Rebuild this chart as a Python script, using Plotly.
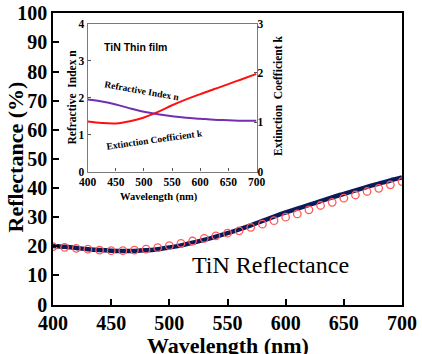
import plotly.graph_objects as go

W, H = 422, 354

# Reflectance spectrum: measured points and fitted curve
wl_meas = list(range(400, 701, 10))
refl_meas = [19.9, 19.65, 19.3, 19.0, 18.7, 18.5, 18.5, 18.7, 19.0, 19.5, 20.2,
             21.0, 21.8, 22.7, 23.6, 24.5, 25.3, 26.5, 27.6, 28.8, 30.0,
             31.1, 32.5, 34.0, 35.1, 36.5, 37.6, 38.8, 39.9, 41.1, 42.2]
wl_fit = list(range(400, 701, 10))
refl_fit = [20.1, 19.8, 19.4, 19.0, 18.7, 18.5, 18.4, 18.4, 18.6, 19.0, 19.6,
            20.3, 21.2, 22.2, 23.3, 24.5, 25.8, 27.2, 28.7, 30.2, 31.6,
            32.9, 34.2, 35.5, 36.8, 38.0, 39.2, 40.4, 41.5, 42.6, 43.6]

# Optical constants of the TiN thin film
wl_nk = [400, 425, 450, 475, 500, 525, 550, 575, 600, 625, 650, 675, 700]
n_vals = [1.35, 1.31, 1.30, 1.36, 1.46, 1.61, 1.79, 1.95, 2.09, 2.23, 2.36, 2.50, 2.64]
k_vals = [1.46, 1.42, 1.36, 1.28, 1.21, 1.16, 1.12, 1.09, 1.07, 1.05, 1.04, 1.03, 1.03]

main_xticks = [400, 450, 500, 550, 600, 650, 700]
main_yticks = list(range(0, 101, 10))
inset_xticks = [400, 450, 500, 550, 600, 650, 700]
n_ticks = [0, 1, 2, 3, 4]
k_ticks = [0, 1, 2, 3]


def px(x):
    return x / W


def py(y):
    return 1 - y / H


SERIF = "Times New Roman, Liberation Serif, serif"
SANS = "Arial, Liberation Sans, sans-serif"

fig = go.Figure()

fig.add_trace(go.Scatter(
    x=wl_fit, y=refl_fit, mode="lines", line=dict(color="#0b1a5a", width=4.5, shape="spline"),
    xaxis="x", yaxis="y", showlegend=False))
fig.add_trace(go.Scatter(
    x=wl_meas, y=refl_meas, mode="markers",
    marker=dict(symbol="circle-open", size=7.5, color="#ff5a5a", line=dict(width=1.3, color="#ff5a5a")),
    xaxis="x", yaxis="y", showlegend=False))

fig.add_trace(go.Scatter(
    x=wl_nk, y=n_vals, mode="lines", line=dict(color="#ff1010", width=2, shape="spline"),
    xaxis="x2", yaxis="y2", showlegend=False))
fig.add_trace(go.Scatter(
    x=wl_nk, y=k_vals, mode="lines", line=dict(color="#7030b0", width=2, shape="spline"),
    xaxis="x2", yaxis="y3", showlegend=False))

main_tick_font = dict(family=SERIF, size=20, color="black", weight="bold")
inset_tick_font = dict(family=SERIF, size=11.5, color="black", weight="bold")

fig.update_layout(
    width=W, height=H, autosize=False,
    margin=dict(l=0, r=0, t=0, b=0, autoexpand=False),
    paper_bgcolor="white", plot_bgcolor="white",
    xaxis=dict(domain=[px(53), px(402)], range=[400, 700], tickvals=main_xticks,
               ticks="inside", ticklen=6, tickwidth=1.5, tickcolor="black",
               showline=True, linecolor="black", linewidth=1.5, mirror=True, automargin=False,
               showgrid=False, zeroline=False, tickfont=main_tick_font, anchor="y"),
    yaxis=dict(domain=[py(304.5), py(13.3)], range=[0, 100], tickvals=main_yticks,
               ticks="inside", ticklen=6, tickwidth=1.5, tickcolor="black",
               showline=True, linecolor="black", linewidth=1.5, mirror=True, automargin=False,
               showgrid=False, zeroline=False, tickfont=main_tick_font, anchor="x"),
    xaxis2=dict(domain=[px(87.7), px(256.5)], range=[400, 700], tickvals=inset_xticks,
                ticks="inside", ticklen=3, tickwidth=1, tickcolor="#555555", automargin=False,
                showline=True, linecolor="#7a7a7a", linewidth=1.2, mirror=True,
                showgrid=False, zeroline=False, tickfont=inset_tick_font, anchor="y2"),
    yaxis2=dict(domain=[py(171.5), py(23.5)], range=[0, 4], tickvals=n_ticks,
                ticks="inside", ticklen=3, tickwidth=1, tickcolor="#555555", automargin=False,
                showline=True, linecolor="#7a7a7a", linewidth=1.2, mirror=True,
                showgrid=False, zeroline=False, tickfont=inset_tick_font, anchor="x2"),
    yaxis3=dict(domain=[py(171.5), py(23.5)], range=[0, 3], tickvals=k_ticks,
                overlaying="y2", side="right", anchor="x2", automargin=False,
                ticks="inside", ticklen=3, tickwidth=1, tickcolor="#555555",
                showline=False, showgrid=False, zeroline=False, tickfont=inset_tick_font),
)


def label(text, x, y, size, family=SERIF, weight="bold", angle=0):
    fig.add_annotation(
        text=text, x=px(x), y=py(y), xref="paper", yref="paper",
        showarrow=False, textangle=angle, xanchor="center", yanchor="middle",
        font=dict(family=family, size=size, color="black", weight=weight))


label("Reflectance (%)", 15, 157.5, 22, angle=-90)
label("Wavelength (nm)", 227.5, 345, 22)
label("TiN Reflectance", 270, 265, 24, weight="normal")

label("Refractive  Index n", 72, 97.5, 11.5, angle=-90)
label("Extinction  Coefficient k", 278, 96, 11.5, angle=-90)
label("Wavelength (nm)", 158.5, 196.5, 10.5)
label("TiN Thin film", 135, 46.7, 10.5, family=SANS)
label("Refractive Index n", 142, 90.5, 9.5, angle=10)
label("Extinction Coefficient k", 154, 140, 9.5, angle=-8)

fig.write_html("out.html")
